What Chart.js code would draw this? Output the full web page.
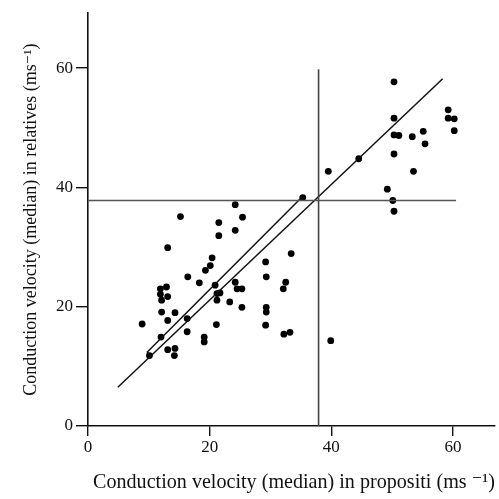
<!DOCTYPE html>
<html>
<head>
<meta charset="utf-8">
<script src="https://cdn.jsdelivr.net/npm/chart.js@4"></script>
<style>
  body { margin: 0; background: #fff; }
</style>
</head>
<body>
<canvas id="cv" width="499" height="499"></canvas>
<script>
// ticks
const xTicks = [0, 20, 40, 60];
const yTicks = [0, 20, 40, 60];

// median conduction velocity: propositi (x) vs relatives (y)
const propositi = [
  8.9, 10.1, 11.9, 12.9, 11.9, 13.1, 12.1, 12.1, 14.3, 13.1, 12.0, 13.1, 14.3, 14.2,
  13.1, 15.2, 16.4, 18.3, 16.3, 16.3, 19.1, 19.1, 19.3, 20.1, 20.4, 21.5, 21.5, 24.2,
  24.2, 25.4, 20.9, 21.2, 21.7, 21.2, 21.1, 24.2, 24.5, 25.3, 23.3, 25.3, 29.2, 29.3,
  29.3, 29.3, 29.2, 33.4, 32.5, 32.1, 32.2, 33.2, 35.3, 39.9, 39.5,
  44.5, 49.2, 50.1, 50.3, 50.3, 50.3, 51.1, 53.3, 55.1, 55.4, 53.5, 50.3, 50.3,
  59.2, 59.2, 60.2, 60.2
];
const relatives = [
  17.1, 11.8, 23.0, 23.3, 22.1, 21.7, 21.1, 19.1, 19.0, 17.7, 14.9, 12.8, 13.0, 11.8,
  29.9, 35.1, 25.0, 24.0, 18.0, 15.8, 14.9, 14.1, 26.1, 26.9, 28.2, 31.9, 34.1, 32.8,
  37.1, 35.0, 23.6, 22.2, 22.3, 21.1, 17.0, 24.1, 23.0, 23.0, 20.8, 19.9, 27.5, 25.0,
  19.9, 19.1, 16.9, 28.9, 24.1, 23.0, 15.4, 15.7, 38.3, 14.3, 42.7,
  44.8, 39.7, 37.8, 36.0, 45.6, 48.8, 48.7, 48.5, 49.4, 47.3, 42.7, 51.6, 57.7,
  53.0, 51.6, 51.5, 49.5
];

// fitted lines
const longLineX = [4.9, 58.3];
const longLineY = [6.5, 58.2];
const shortLineX = [10.3, 9.75, 34.9];
const shortLineY = [11.7, 12.4, 38.1];

// median cross-hairs
const vLineX = [37.9, 37.9];
const vLineY = [0, 59.8];
const hLineX = [0, 60.5];
const hLineY = [37.8, 37.8];

const toXY = (xs, ys) => xs.map((x, i) => ({ x: x, y: ys[i] }));

const serif = "'Liberation Serif', 'DejaVu Serif', serif";
const ink = "#111";

const lineSet = (xs, ys, color, width) => ({
  data: toXY(xs, ys),
  showLine: true,
  borderColor: color,
  borderWidth: width,
  pointRadius: 0,
  fill: false,
});

new Chart(document.getElementById("cv").getContext("2d"), {
  type: "scatter",
  data: {
    datasets: [
      lineSet(vLineX, vLineY, "#444", 1.6),
      lineSet(hLineX, hLineY, "#555", 1.6),
      lineSet(longLineX, longLineY, "#111", 1.5),
      lineSet(shortLineX, shortLineY, "#111", 1.5),
      {
        data: toXY(propositi, relatives),
        backgroundColor: "#000",
        borderColor: "#000",
        pointRadius: 3.4,
        borderWidth: 0,
      },
    ],
  },
  options: {
    responsive: false,
    animation: false,
    layout: { padding: { top: 4, right: 0, left: 0, bottom: 0 } },
    plugins: { legend: { display: false }, tooltip: { enabled: false } },
    scales: {
      x: {
        type: "linear",
        min: 0,
        max: 66.9,
        afterFit: (s) => { s.height = 73; },
        afterBuildTicks: (s) => { s.ticks = xTicks.map((v) => ({ value: v })); },
        grid: { drawOnChartArea: false, tickLength: 10, color: ink, lineWidth: 1.4 },
        border: { color: ink, width: 1.6 },
        ticks: { font: { family: serif, size: 17 }, color: ink, padding: 1, maxRotation: 0 },
        title: {
          display: true,
          align: "start",
          text: " Conduction velocity (median) in propositi (ms \u207B\u00B9)",
          font: { family: serif, size: 21 },
          color: ink,
          padding: { top: 0, bottom: 4 },
        },
      },
      y: {
        type: "linear",
        min: 0,
        max: 69.2,
        afterFit: (s) => { s.width = 88; },
        afterBuildTicks: (s) => { s.ticks = yTicks.map((v) => ({ value: v })); },
        grid: { drawOnChartArea: false, tickLength: 12, color: ink, lineWidth: 1.4 },
        border: { color: ink, width: 1.6 },
        ticks: { font: { family: serif, size: 17 }, color: ink, padding: 3 },
        title: {
          display: true,
          text: "Conduction velocity (median) in relatives (ms\u207B\u00B9)",
          font: { family: serif, size: 18 },
          color: ink,
          padding: { top: 20, bottom: 0 },
        },
      },
    },
  },
});
</script>
</body>
</html>
